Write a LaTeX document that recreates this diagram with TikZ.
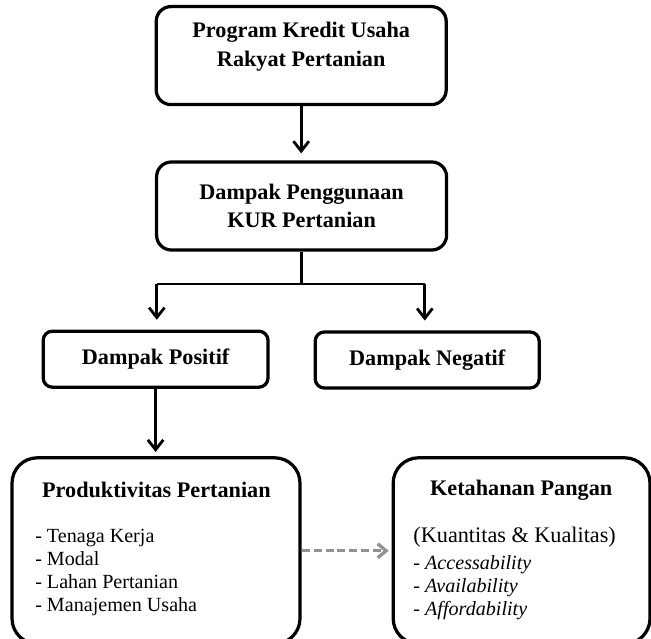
\documentclass[tikz,border=0pt]{standalone}
\usepackage{fontspec}
\setmainfont{Liberation Serif}
\usetikzlibrary{arrows.meta,positioning}

\begin{document}
\begin{tikzpicture}[
		box/.style={draw, line width=2.3pt, rounded corners=10.5pt,
				align=center, font=\fontsize{15.8}{20.3}\selectfont\bfseries},
		smallbox/.style={box, rounded corners=6.5pt},
		bigbox/.style={draw, line width=2.3pt, rounded corners=18pt},
		headtext/.style={font=\fontsize{15.8}{20.3}\selectfont\bfseries, inner sep=0pt},
		listtext/.style={font=\fontsize{14.3}{16.4}\selectfont, align=left,
				anchor=west, inner sep=0pt},
		arr/.style={-{Straight Barb[length=7pt,width=11pt]}, line width=2pt},
		dasharr/.style={-{Straight Barb[length=6pt,width=10pt]}, line width=2.4pt,
				gray!85, dash pattern=on 5.7pt off 2.8pt}]

	\useasboundingbox (0,0) rectangle (16.275,-15.975);
	\clip (0,0) rectangle (16.275,-15.975);

	% Program dan dampak
	\node[box, minimum width=7.25cm, minimum height=2.45cm] (prog) at (7.53,-1.39)
	{Program Kredit Usaha\\Rakyat Pertanian\\[-4pt]};
	\node[box, minimum width=7.25cm, minimum height=2.2cm] (dampak) at (7.54,-5.15)
	{Dampak Penggunaan\\KUR Pertanian};

	% Positif / negatif
	\node[smallbox, minimum width=5.62cm, minimum height=1.4cm] (pos) at (3.89,-8.98)
	{Dampak Positif};
	\node[smallbox, minimum width=5.6cm, minimum height=1.4cm] (neg) at (10.68,-9.0)
	{Dampak Negatif};

	% Produktivitas dan ketahanan pangan
	\node[bigbox, minimum width=7.2cm, minimum height=4.65cm] (prod) at (3.9,-13.77) {};
	\node[bigbox, minimum width=6.42cm, minimum height=4.65cm] (keta) at (13.04,-13.77) {};

	\node[headtext] (prodtitle) at (3.91,-12.25) {Produktivitas Pertanian};
	\node[listtext] (prodlist) at (0.875,-14.31)
	{- Tenaga Kerja\\- Modal\\- Lahan Pertanian\\- Manajemen Usaha};

	\node[headtext] (ketatitle) at (13.03,-12.25) {Ketahanan Pangan};
	\node[listtext, font=\fontsize{15.8}{18}\selectfont] (ketasub) at (10.33,-13.43)
	{(Kuantitas \& Kualitas)};
	\node[listtext] (ketalist) at (10.33,-14.69)
	{- \textit{Accessability}\\- \textit{Availability}\\- \textit{Affordability}};

	% Panah
	\coordinate (split) at (7.54,-7.1);
	\coordinate (bl) at (3.92,-7.1);
	\coordinate (br) at (10.62,-7.1);

	\draw[arr, shorten >=5pt] (prog.south) -- (prog.south |- dampak.north);
	\draw[line width=2pt] (dampak.south) -- (split);
	\draw[line width=2pt] (bl) -- (br);
	\draw[arr, shorten >=7pt] (bl) -- (bl |- pos.north);
	\draw[arr, shorten >=7pt] (br) -- (br |- neg.north);
	\draw[arr, shorten >=3pt] (pos.south) -- (pos.south |- prod.north);
	\draw[dasharr, shorten >=2pt] (prod.east) -- (keta.west);

\end{tikzpicture}
\end{document}
